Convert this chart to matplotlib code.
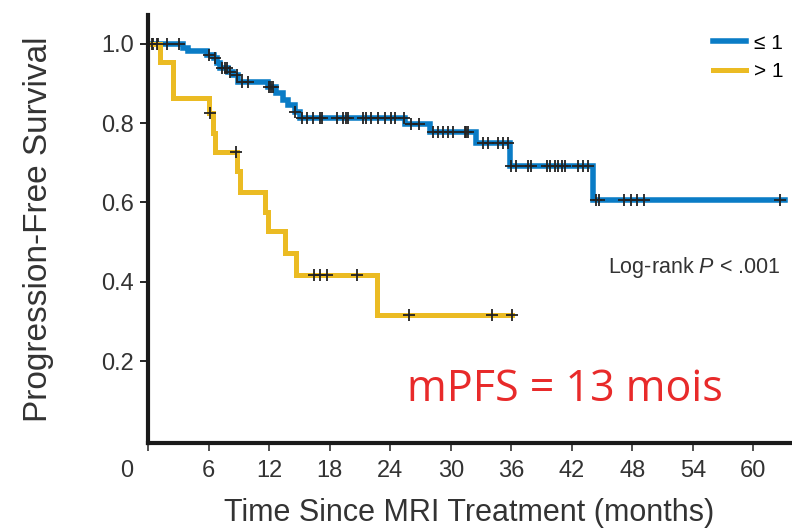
import numpy as np
import matplotlib
matplotlib.use("Agg")
import matplotlib.pyplot as plt
from matplotlib.transforms import ScaledTranslation

plt.rcParams["font.family"] = ["Liberation Sans Narrow", "Liberation Sans", "DejaVu Sans"]
plt.rcParams["mathtext.fontset"] = "custom"
plt.rcParams["mathtext.rm"] = "Liberation Sans"
plt.rcParams["mathtext.it"] = "Liberation Sans:italic"

# Kaplan-Meier steps (time in months, survival after event)
low_t = [0, 3.5, 4.0, 5.8, 6.5, 6.8, 7.1, 7.95, 8.45, 8.95, 11.9, 12.7, 13.4,
         13.9, 14.55, 15.05, 25.5, 27.9, 32.5, 35.9, 44.1, 63.1]
low_s = [1.0, 0.99, 0.983, 0.972, 0.964, 0.951, 0.939, 0.930, 0.922, 0.903,
         0.892, 0.876, 0.859, 0.846, 0.829, 0.813, 0.798, 0.777, 0.751, 0.691,
         0.606, 0.606]
low_cens = [0.5, 1.0, 1.85, 3.1, 6.0, 6.6, 7.3, 7.6, 7.8, 8.1, 8.8, 9.3, 9.9,
            12.0, 12.2, 12.4, 14.6, 15.3, 15.8, 16.3, 17.0, 17.2, 18.7, 19.3,
            19.6, 19.8, 21.3, 21.65, 22.1, 22.8, 23.5, 24.1, 24.5, 25.4, 26.1,
            26.9, 28.25, 28.7, 29.2, 29.7, 30.2, 31.4, 31.55, 31.7, 33.2, 33.7,
            34.7, 35.2, 35.7, 36.0, 36.5, 37.7, 38.0, 39.5, 39.8, 40.3, 40.6,
            41.0, 41.3, 42.6, 43.1, 43.6, 44.4, 44.75, 47.2, 47.9, 48.5, 49.2,
            62.6]

high_t = [0, 1.2, 2.5, 6.0, 6.4, 6.6, 8.8, 9.1, 11.6, 11.9, 13.6, 14.7, 22.7, 36.1]
high_s = [1.0, 0.953, 0.863, 0.825, 0.776, 0.728, 0.68, 0.627, 0.577, 0.527,
          0.472, 0.417, 0.316, 0.316]
high_cens = [0.4, 0.9, 6.1, 8.7, 16.4, 17.0, 17.7, 20.7, 25.9, 34.1, 36.1]

labels = ["\u2264 1", "> 1"]
colors = ["#0a7cc6", "#ebbb23"]
xticks = [0, 6, 12, 18, 24, 30, 36, 42, 48, 54, 60]
yticks = [0.2, 0.4, 0.6, 0.8, 1.0]


def surv_at(t_steps, s_steps, t):
    idx = np.searchsorted(t_steps, t, side="right") - 1
    return np.asarray(s_steps)[idx]


fig = plt.figure(figsize=(7.92, 5.31), dpi=100)
ax = fig.add_axes([0.187, 0.166, 0.81, 0.806])

for t_steps, s_steps, cens, col, lab, lw in [(low_t, low_s, low_cens, colors[0], labels[0], 4.0),
                                             (high_t, high_s, high_cens, colors[1], labels[1], 3.6)]:
    ax.step(t_steps, s_steps, where="post", color=col, lw=lw, label=lab,
            solid_joinstyle="miter")
    ax.plot(cens, surv_at(t_steps, s_steps, cens), linestyle="none", marker="+",
            color="#222222", markersize=8, markeredgewidth=1.3)

ax.set_xlim(0, 63.6)
ax.set_ylim(-0.006, 1.073)
ax.set_xticks(xticks)
ax.set_yticks(yticks)
ax.set_yticklabels(["%.1f" % v for v in yticks], fontsize=17,
                   family=["Liberation Sans", "DejaVu Sans"], color="#333333")
ax.tick_params(axis="x", labelsize=17, length=6, width=1.2, direction="out",
               pad=6, colors="#333333")
ax.tick_params(axis="y", length=6, width=1.2, direction="out", pad=4)
first = ax.get_xticklabels()[0]
first.set_transform(first.get_transform() +
                    ScaledTranslation(-0.21, 0, fig.dpi_scale_trans))

for side in ["top", "right"]:
    ax.spines[side].set_visible(False)
for side in ["left", "bottom"]:
    ax.spines[side].set_linewidth(3)
    ax.spines[side].set_color("#1a1a1a")

ax.set_xlabel("Time Since MRI Treatment (months)", fontsize=22, labelpad=12,
              color="#333333")
ax.set_ylabel("Progression-Free Survival", fontsize=24, labelpad=34,
              color="#333333")

ax.legend(loc="upper right", bbox_to_anchor=(1.02, 1.0), frameon=False,
          handlelength=1.6, handletextpad=0.4, labelspacing=0.45,
          prop={"family": ["Liberation Sans", "DejaVu Sans"], "size": 15})

ax.text(0.985, 0.41, "Log-rank $\\it{P}$ < .001", transform=ax.transAxes,
        ha="right", va="center", fontsize=15.5, color="#333333",
        family=["Liberation Sans", "DejaVu Sans"])
ax.text(0.65, 0.125, "mPFS = 13 mois", transform=ax.transAxes, ha="center",
        va="center", fontsize=31, color="#e82a2a",
        family=["Open Sans", "DejaVu Sans"])

fig.savefig("out.png", dpi=100)
